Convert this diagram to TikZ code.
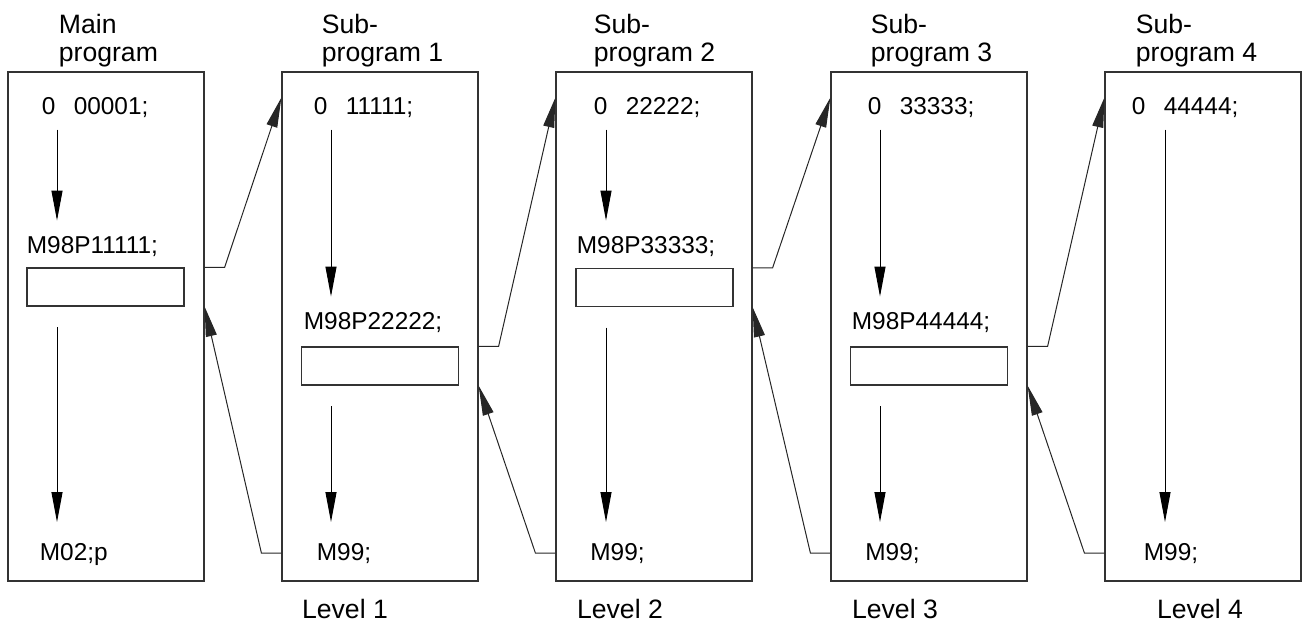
\documentclass[tikz,border=0pt]{standalone}
\usepackage{fontspec}
\setmainfont{Liberation Sans}
\usetikzlibrary{arrows.meta}

\begin{document}
\begin{tikzpicture}[
  x=0.5pt, y=-0.5pt,
  prog/.style={draw=black!80, line width=0.6pt, minimum width=98pt, minimum height=254.5pt, inner sep=0pt},
  callbox/.style={draw=black!80, line width=0.6pt, minimum width=78.5pt, minimum height=19pt, inner sep=0pt},
  codeline/.style={anchor=base west, inner sep=0pt, font=\fontsize{12.2}{14}\selectfont},
  head/.style={anchor=north west, align=left, inner sep=0pt, font=\fontsize{13.3}{14}\selectfont},
  lvl/.style={anchor=base, inner sep=0pt, font=\fontsize{13.3}{14}\selectfont},
  flow/.style={-{Triangle[length=15pt, width=5.5pt]}, line width=0.5pt},
  jump/.style={-{Triangle[length=15pt, width=5.5pt]}, line width=0.5pt, draw=black!85}
]
\useasboundingbox (0,0) rectangle (1302,625);

% program boxes
\node[prog] (main) at (106,326.5) {};
\node[prog] (sub1) at (380,326.5) {};
\node[prog] (sub2) at (654,326.5) {};
\node[prog] (sub3) at (929,326.5) {};
\node[prog] (sub4) at (1203,326.5) {};

% headings
\node[head] (t0) at (58.5,14) {Main\\program};
\node[head] (t1) at (321.5,14) {Sub-\\program 1};
\node[head] (t2) at (593.5,14) {Sub-\\program 2};
\node[head] (t3) at (870.5,14) {Sub-\\program 3};
\node[head] (t4) at (1135.5,14) {Sub-\\program 4};

% first lines
\node[codeline] (s0) at (41.5,115) {0\hspace{0.75em}00001;};
\node[codeline] (s1) at (313.5,115) {0\hspace{0.75em}11111;};
\node[codeline] (s2) at (593.5,115) {0\hspace{0.75em}22222;};
\node[codeline] (s3) at (867.5,115) {0\hspace{0.75em}33333;};
\node[codeline] (s4) at (1131.5,115) {0\hspace{0.75em}44444;};

% calls
\node[codeline] (m0) at (26.5,254) {M98P11111;};
\node[codeline] (m1) at (303.5,330) {M98P22222;};
\node[codeline] (m2) at (576.5,254) {M98P33333;};
\node[codeline] (m3) at (851.5,330) {M98P44444;};
\node[callbox] (call0) at (105.5,287) {};
\node[callbox] (call1) at (380,366) {};
\node[callbox] (call2) at (654.5,287.5) {};
\node[callbox] (call3) at (929,366) {};

% last lines
\node[codeline] (e0) at (39.5,560) {M02;p};
\node[codeline] (e1) at (316.5,560) {M99;};
\node[codeline] (e2) at (590,560) {M99;};
\node[codeline] (e3) at (865,560) {M99;};
\node[codeline] (e4) at (1143.5,560) {M99;};

% levels
\node[lvl] (l1) at (345,618) {Level 1};
\node[lvl] (l2) at (620,618) {Level 2};
\node[lvl] (l3) at (895,618) {Level 3};
\node[lvl] (l4) at (1200,618) {Level 4};

% arrow columns
\coordinate (col0) at (57,0);
\coordinate (col1) at (331,0);
\coordinate (col2) at (606,0);
\coordinate (col3) at (880,0);
\coordinate (col4) at (1165,0);

% flow inside the programs
\draw[flow, shorten <=5.5pt, shorten >=8pt] (s0.south -| col0) -- (m0.north -| col0);
\draw[flow, shorten <=10.25pt, shorten >=10.25pt] (call0.south -| col0) -- (e0.north -| col0);
\draw[flow, shorten <=5.5pt, shorten >=8pt] (s1.south -| col1) -- (m1.north -| col1);
\draw[flow, shorten <=10.25pt, shorten >=10.25pt] (call1.south -| col1) -- (e1.north -| col1);
\draw[flow, shorten <=5.5pt, shorten >=8pt] (s2.south -| col2) -- (m2.north -| col2);
\draw[flow, shorten <=10.25pt, shorten >=10.25pt] (call2.south -| col2) -- (e2.north -| col2);
\draw[flow, shorten <=5.5pt, shorten >=8pt] (s3.south -| col3) -- (m3.north -| col3);
\draw[flow, shorten <=10.25pt, shorten >=10.25pt] (call3.south -| col3) -- (e3.north -| col3);
\draw[flow, shorten <=5.5pt, shorten >=10.25pt] (s4.south -| col4) -- (e4.north -| col4);

% calls and returns
\draw[jump] (main.east |- call0.north) -- ++(20,0) -- (sub1.west |- s1.north);
\draw[jump] (sub1.west |- e1) -- ++(-20,0) -- (main.east |- call0.south);
\draw[jump] (sub1.east |- call1.north) -- ++(20,0) -- (sub2.west |- s2.north);
\draw[jump] (sub2.west |- e2) -- ++(-20,0) -- (sub1.east |- call1.south);
\draw[jump] (sub2.east |- call2.north) -- ++(20,0) -- (sub3.west |- s3.north);
\draw[jump] (sub3.west |- e3) -- ++(-20,0) -- (sub2.east |- call2.south);
\draw[jump] (sub3.east |- call3.north) -- ++(20,0) -- (sub4.west |- s4.north);
\draw[jump] (sub4.west |- e4) -- ++(-20,0) -- (sub3.east |- call3.south);
\end{tikzpicture}
\end{document}
